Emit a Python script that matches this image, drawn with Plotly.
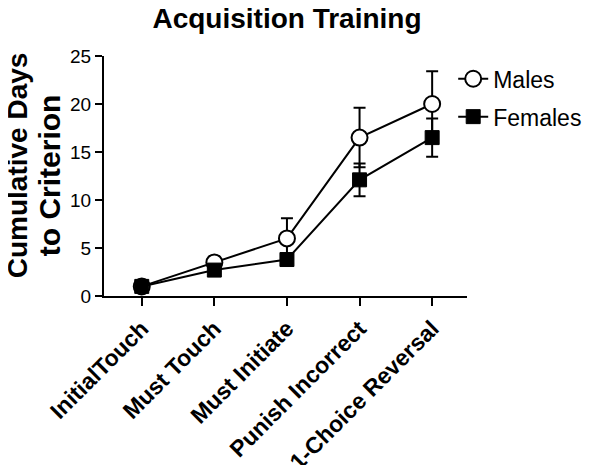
import plotly.graph_objects as go

stages = ["InitialTouch", "Must Touch", "Must Initiate", "Punish Incorrect", "1-Choice Reversal"]
males = [1.0, 3.5, 6.0, 16.5, 20.0]
males_err = [0.0, 0.3, 2.1, 3.1, 3.4]
females = [1.0, 2.7, 3.8, 12.1, 16.5]
females_err = [0.0, 0.3, 0.5, 1.7, 2.0]

FONT = "Liberation Sans, Arial, sans-serif"

fig = go.Figure()

fig.add_trace(go.Scatter(
    x=stages, y=males, name="Males", mode="lines+markers",
    line=dict(color="black", width=2),
    marker=dict(symbol="circle", size=16, color="white", line=dict(color="black", width=2)),
    error_y=dict(type="data", array=males_err, color="black", thickness=2, width=6),
    legendgroup="m", cliponaxis=False,
))
fig.add_trace(go.Scatter(
    x=stages, y=females, name="Females", mode="lines+markers",
    line=dict(color="black", width=2),
    marker=dict(symbol="square", size=14, color="black", line=dict(color="black", width=1)),
    error_y=dict(type="data", array=females_err, color="black", thickness=2, width=6),
    legendgroup="f", cliponaxis=False,
))

# page is drawn with an 8px body margin, so everything sits 8px up/left of the screen spot
fig.update_layout(
    width=600, height=465,
    margin=dict(l=96, r=141, t=48, b=177, autoexpand=False),
    paper_bgcolor="white", plot_bgcolor="white",
    font=dict(family=FONT, color="black"),
    title=dict(text="<b>Acquisition Training</b>", x=0.465, xanchor="center",
               y=1.0, yanchor="top", pad=dict(t=0), font=dict(size=28)),
    legend=dict(xref="container", yref="container", x=0.742, xanchor="left",
                y=0.894, yanchor="top",
                font=dict(size=23), traceorder="grouped", tracegroupgap=5,
                bgcolor="rgba(0,0,0,0)"),
    showlegend=True,
)

fig.update_xaxes(
    range=[-0.52, 4.48], showgrid=False, zeroline=False, automargin=False,
    showline=True, linecolor="black", linewidth=2,
    ticks="outside", ticklen=8, tickwidth=2, tickcolor="black",
    tickangle=-45, tickfont=dict(size=23, family=FONT),
    tickprefix="<b>", ticksuffix="</b>",
)
fig.update_yaxes(
    range=[0, 25], tickvals=[0, 5, 10, 15, 20, 25], showgrid=False, zeroline=False,
    automargin=False,
    showline=True, linecolor="black", linewidth=2,
    ticks="outside", ticklen=7, tickwidth=2, tickcolor="black",
    tickfont=dict(size=19, family=FONT),
    tickprefix="<b>", ticksuffix="</b>",
)

fig.add_annotation(
    text="<b>Cumulative Days</b>", textangle=-90,
    xref="paper", yref="paper", x=-0.236, y=0.546,
    xanchor="center", yanchor="middle", showarrow=False,
    font=dict(size=28, family=FONT),
)
fig.add_annotation(
    text="<b>to Criterion</b>", textangle=-90,
    xref="paper", yref="paper", x=-0.151, y=0.504,
    xanchor="center", yanchor="middle", showarrow=False,
    font=dict(size=30, family=FONT),
)

fig.write_html("out.html")
